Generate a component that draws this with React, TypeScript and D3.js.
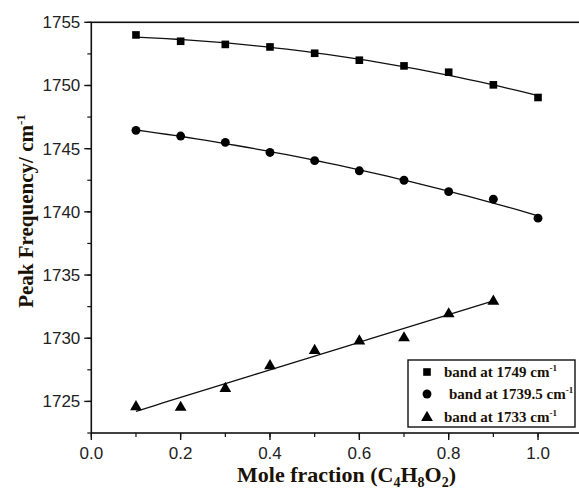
import React, { useEffect, useRef } from "react";
import * as d3 from "d3";

const moleFractions = [0.1, 0.2, 0.3, 0.4, 0.5, 0.6, 0.7, 0.8, 0.9, 1.0];
const band1749 = [1754.0, 1753.5, 1753.25, 1753.05, 1752.55, 1752.0, 1751.55, 1751.05, 1750.05, 1749.05];
const band1739 = [1746.45, 1746.0, 1745.5, 1744.7, 1744.05, 1743.25, 1742.5, 1741.6, 1741.0, 1739.5];
const moleFractions1733 = [0.1, 0.2, 0.3, 0.4, 0.5, 0.6, 0.7, 0.8, 0.9];
const band1733 = [1724.65, 1724.6, 1726.1, 1727.9, 1729.1, 1729.85, 1730.1, 1732.0, 1733.0];
const xTicks = [0.0, 0.2, 0.4, 0.6, 0.8, 1.0];
const yTicks = [1725, 1730, 1735, 1740, 1745, 1750, 1755];
const legendLabels = ["band at 1749 cm", "band at 1739.5 cm", "band at 1733 cm"];

const SERIF = "'Liberation Serif', 'Times New Roman', serif";
const SANS = "'Liberation Sans', Arial, sans-serif";

// least-squares polynomial fit (degree 1 or 2)
function polyFit(xs: number[], ys: number[], deg: number): number[] {
  const n = deg + 1;
  const A: number[][] = Array.from({ length: n }, () => new Array(n + 1).fill(0));
  for (let i = 0; i < xs.length; i++) {
    for (let r = 0; r < n; r++) {
      for (let c = 0; c < n; c++) A[r][c] += Math.pow(xs[i], r + c);
      A[r][n] += ys[i] * Math.pow(xs[i], r);
    }
  }
  for (let p = 0; p < n; p++) {
    let max = p;
    for (let r = p + 1; r < n; r++) if (Math.abs(A[r][p]) > Math.abs(A[max][p])) max = r;
    [A[p], A[max]] = [A[max], A[p]];
    for (let r = 0; r < n; r++) {
      if (r === p) continue;
      const f = A[r][p] / A[p][p];
      for (let c = p; c <= n; c++) A[r][c] -= f * A[p][c];
    }
  }
  return A.map((row, i) => row[n] / row[i]);
}

export default function App() {
  const ref = useRef<SVGSVGElement>(null);
  useEffect(() => {
    document.body.style.margin = "0";
    const svg = d3.select(ref.current);
    svg.selectAll("*").remove();
    const left = 91.3, top = 22.3, bottom = 433, right = 582.7;
    const x = d3.scaleLinear().domain([0, 1.1]).range([left, right]);
    const y = d3.scaleLinear().domain([1722.5, 1755]).range([bottom, top]);
    const ink = "#111";

    const g = svg.append("g");
    d3.range(0, 1.11, 0.1).forEach((v) => {
      g.append("line").attr("x1", x(v)).attr("x2", x(v)).attr("y1", bottom).attr("y2", bottom + 4).attr("stroke", ink).attr("stroke-width", 1.2);
    });
    d3.range(1722.5, 1755.01, 2.5).forEach((v) => {
      g.append("line").attr("x1", left - 4).attr("x2", left).attr("y1", y(v)).attr("y2", y(v)).attr("stroke", ink).attr("stroke-width", 1.2);
    });
    xTicks.forEach((v) => {
      g.append("line").attr("x1", x(v)).attr("x2", x(v)).attr("y1", bottom).attr("y2", bottom + 7).attr("stroke", ink).attr("stroke-width", 1.4);
      g.append("text").attr("x", x(v)).attr("y", bottom + 26).attr("text-anchor", "middle")
        .attr("font-family", SANS).attr("font-size", 17).attr("fill", "#222")
        .text(v.toFixed(1));
    });
    yTicks.forEach((v) => {
      g.append("line").attr("x1", left - 7).attr("x2", left).attr("y1", y(v)).attr("y2", y(v)).attr("stroke", ink).attr("stroke-width", 1.4);
      g.append("text").attr("x", left - 11).attr("y", y(v) + 6).attr("text-anchor", "end")
        .attr("font-family", SANS).attr("font-size", 17).attr("fill", "#222")
        .text(String(v));
    });
    g.append("rect").attr("x", left).attr("y", top).attr("width", right - left).attr("height", bottom - top)
      .attr("fill", "none").attr("stroke", ink).attr("stroke-width", 1.6);

    const fitLine = (xs: number[], ys: number[], deg: number) => {
      const c = polyFit(xs, ys, deg);
      const x0 = xs[0], x1 = xs[xs.length - 1];
      const pts = d3.range(0, 41).map((i) => {
        const xv = x0 + ((x1 - x0) * i) / 40;
        const yv = c.reduce((s, ci, k) => s + ci * Math.pow(xv, k), 0);
        return [x(xv), y(yv)] as [number, number];
      });
      svg.append("path").attr("d", d3.line()(pts)).attr("fill", "none").attr("stroke", ink).attr("stroke-width", 1.3);
    };
    fitLine(moleFractions, band1749, 2);
    fitLine(moleFractions, band1739, 2);
    fitLine(moleFractions1733, band1733, 1);

    const sq = d3.symbol().type(d3.symbolSquare).size(58);
    const ci = d3.symbol().type(d3.symbolCircle).size(62);
    const tr = d3.symbol().type(d3.symbolTriangle).size(60);
    const drawPts = (xs: number[], ys: number[], sym: any, dy = 0) => {
      xs.forEach((xv, i) => {
        svg.append("path").attr("d", sym()).attr("transform", `translate(${x(xv)},${y(ys[i]) + dy})`).attr("fill", "#000");
      });
    };
    drawPts(moleFractions, band1749, sq);
    drawPts(moleFractions, band1739, ci);
    drawPts(moleFractions1733, band1733, tr, 1);

    const lg = svg.append("g");
    lg.append("rect").attr("x", 408).attr("y", 360).attr("width", 167).attr("height", 67)
      .attr("fill", "#fff").attr("stroke", ink).attr("stroke-width", 1.4);
    const syms = [sq, ci, tr];
    const textX = [444, 449, 444];
    const rows = [372, 394, 416.5];
    legendLabels.forEach((lab, i) => {
      lg.append("path").attr("d", syms[i]()).attr("transform", `translate(427,${rows[i] + (i === 2 ? 1 : 0)})`).attr("fill", "#000");
      const t = lg.append("text").attr("x", textX[i]).attr("y", rows[i] + 5)
        .attr("font-family", SERIF).attr("font-weight", "bold")
        .attr("font-size", 15).attr("fill", "#1a1205");
      t.append("tspan").text(lab);
      t.append("tspan").attr("dy", -6).attr("font-size", 9).text("-1");
    });

    const xt = svg.append("text").attr("x", 237).attr("y", 482).attr("text-anchor", "start")
      .attr("font-family", SERIF).attr("font-weight", "bold")
      .attr("font-size", 22).attr("fill", "#1a1205");
    xt.append("tspan").text("Mole fraction (C");
    xt.append("tspan").attr("dy", 5).attr("font-size", 14).text("4");
    xt.append("tspan").attr("dy", -5).text("H");
    xt.append("tspan").attr("dy", 5).attr("font-size", 14).text("8");
    xt.append("tspan").attr("dy", -5).text("O");
    xt.append("tspan").attr("dy", 5).attr("font-size", 14).text("2");
    xt.append("tspan").attr("dy", -5).text(")");

    const yt = svg.append("text").attr("transform", "translate(33,211) rotate(-90)").attr("text-anchor", "middle")
      .attr("font-family", SERIF).attr("font-weight", "bold")
      .attr("font-size", 21).attr("fill", "#1a1205");
    yt.append("tspan").text("Peak Frequency/ cm");
    yt.append("tspan").attr("dy", -8).attr("font-size", 13).text("-1");
  }, []);
  return <svg ref={ref} width={579} height={490} style={{ display: "block" }} />;
}
